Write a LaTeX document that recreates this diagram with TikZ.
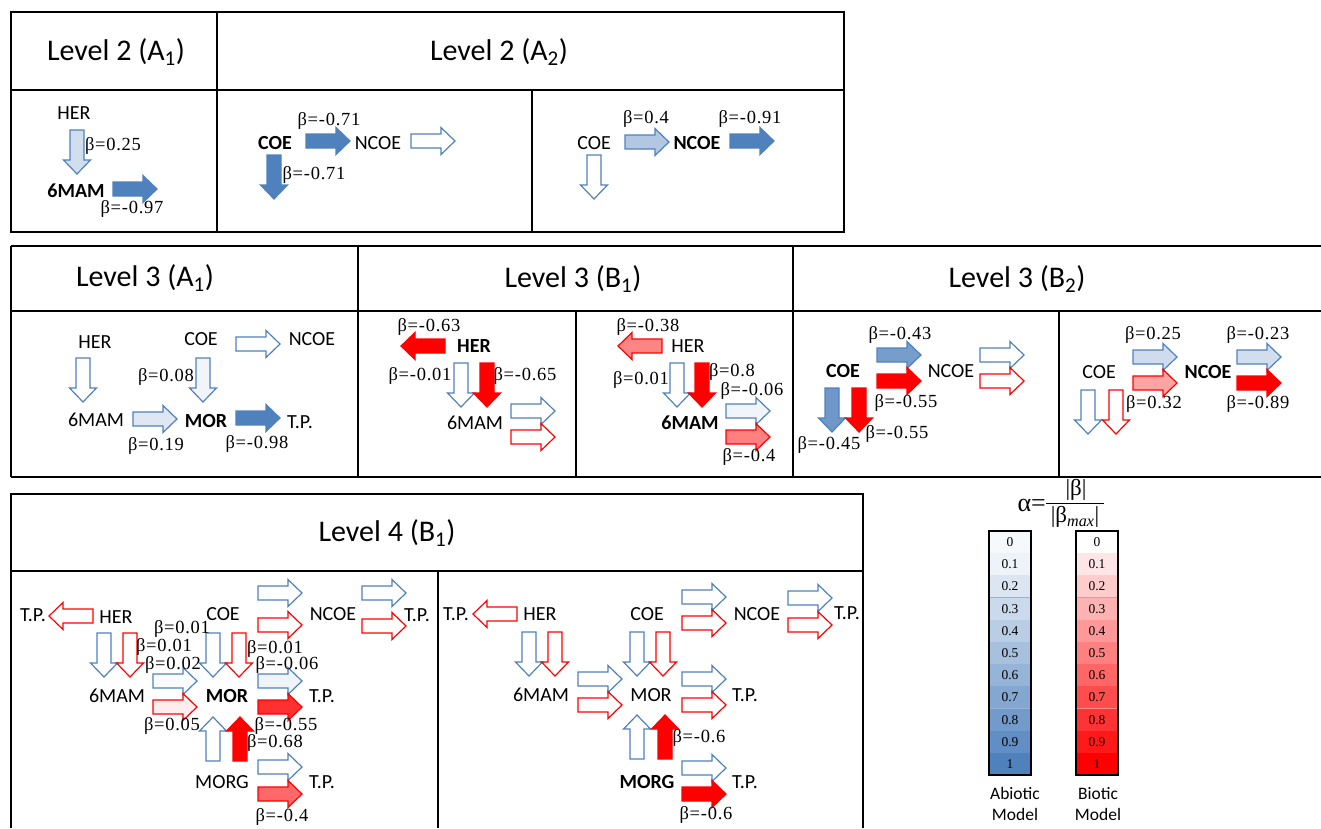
\documentclass[tikz,border=0pt]{standalone}
\usepackage{fontspec}
\setmainfont{Carlito}
\newfontfamily\bfont[LetterSpace=4]{Liberation Serif}
\newfontfamily\ffont{Liberation Serif}
\definecolor{bl}{HTML}{4F81BD}
\definecolor{rd}{HTML}{FF0000}
\newcommand\barw[3]{\draw[#3, shift={#1}, rotate=#2] (0,-7) -- (30,-7) -- (30,-13.5) -- (44,0) -- (30,13.5) -- (30,7) -- (0,7) -- cycle;}
\tikzset{
  ab/.style={draw=bl, fill=bl!#1, line width=1.2pt, line join=miter},
  ar/.style={draw=rd, fill=rd!#1, line width=1.2pt, line join=miter},
  t/.style={font=\fontsize{20}{24}\selectfont, inner sep=0pt},
  tb/.style={font=\fontsize{20}{24}\selectfont\bfseries, inner sep=0pt},
  b/.style={font=\bfont\fontsize{18.5}{20}\selectfont, inner sep=0pt},
  hd/.style={font=\fontsize{30}{34}\selectfont, inner sep=0pt},
  tab/.style={line width=1.4pt, black},
  cellnum/.style={font=\ffont\fontsize{13.5}{15}\selectfont, inner sep=0pt},
  fm/.style={font=\ffont\fontsize{23}{26}\selectfont, inner sep=0pt},
  fa/.style={font=\ffont\fontsize{26}{28}\selectfont, inner sep=0pt}
}
\begin{document}
\begin{tikzpicture}[x=1pt,y=-1pt]
\useasboundingbox (0,0) rectangle (1321,828);
% ---------- tables ----------
\draw[tab] (11,12) rectangle (844,232);
\draw[tab] (11,90) -- (844,90);
\draw[tab] (217,12) -- (217,232);
\draw[tab] (532,90) -- (532,232);
\draw[tab] (11,246) -- (1321,246);
\draw[tab] (11,311) -- (1321,311);
\draw[tab] (11,477) -- (1321,477);
\draw[tab] (11,246) -- (11,477);
\draw[tab] (358,246) -- (358,477);
\draw[tab] (793,246) -- (793,477);
\draw[tab] (576,311) -- (576,477);
\draw[tab] (1059,311) -- (1059,477);
\draw[tab] (11,828) -- (11,494) -- (863,494) -- (863,828);
\draw[tab] (11,571) -- (863,571);
\draw[tab] (438,571) -- (438,828);
% headers
\node[hd] (h1) at (116,52) {Level 2 (A\textsubscript{1})};
\node[hd] (h2) at (499,52) {Level 2 (A\textsubscript{2})};
\node[hd] (h3) at (145,278) {Level 3 (A\textsubscript{1})};
\node[hd] (h4) at (573,279) {Level 3 (B\textsubscript{1})};
\node[hd] (h5) at (1017,279) {Level 3 (B\textsubscript{2})};
\node[hd] (h6) at (387,533) {Level 4 (B\textsubscript{1})};
% ---------- Level 2 (A1) ----------
\barw{(77,130)}{-90}{ab=26}
\barw{(113,189)}{0}{ab=100}
\node[t] (p1her) at (74,113) {HER};
\node[b] (p1b1) at (113,146) {β=0.25};
\node[tb] (p1mam) at (76,191) {6MAM};
\node[b] (p1b2) at (132,209) {β=-0.97};
% ---------- Level 2 (A2) left ----------
\barw{(306,141)}{0}{ab=100}
\barw{(411,141)}{0}{ab=0}
\barw{(274,155)}{-90}{ab=100}
\node[tb] (p2coe) at (275,143) {COE};
\node[b] (p2b1) at (329,121) {β=-0.71};
\node[t] (p2ncoe) at (378,143) {NCOE};
\node[b] (p2b2) at (314,175) {β=-0.71};
% ---------- Level 2 (A2) right ----------
\barw{(594,155)}{-90}{ab=0}
\barw{(625,142)}{0}{ab=44}
\barw{(730,141)}{0}{ab=100}
\node[t] (p3coe) at (594,143) {COE};
\node[b] (p3b1) at (646,119) {β=0.4};
\node[tb] (p3ncoe) at (697,143) {NCOE};
\node[b] (p3b2) at (750,119) {β=-0.91};
% ---------- Level 3 (A1) ----------
\barw{(83,358)}{-90}{ab=0}
\barw{(236,344)}{0}{ab=0}
\barw{(203,358)}{-90}{ab=8}
\barw{(133,419)}{0}{ab=19}
\barw{(236,418)}{0}{ab=100}
\node[t] (q1her) at (95,342) {HER};
\node[t] (q1coe) at (201,339) {COE};
\node[t] (q1ncoe) at (312,339) {NCOE};
\node[b] (q1b1) at (166,377) {β=0.08};
\node[t] (q1mam) at (96,420) {6MAM};
\node[b] (q1b2) at (156,446) {β=0.19};
\node[tb] (q1mor) at (206,421) {MOR};
\node[t] (q1tp) at (300,422) {T.P.};
\node[b] (q1b3) at (257,444) {β=-0.98};
% ---------- Level 3 (B1) left ----------
\barw{(445,346)}{180}{ar=100}
\barw{(461,363)}{-90}{ab=0}
\barw{(487,363)}{-90}{ar=100}
\barw{(511,411)}{0}{ab=0}
\barw{(511,437)}{0}{ar=0}
\node[b] (q2b1) at (429,327) {β=-0.63};
\node[tb] (q2her) at (474,346) {HER};
\node[b] (q2b2) at (420,376) {β=-0.01};
\node[b] (q2b3) at (525,376) {β=-0.65};
\node[t] (q2mam) at (475,423) {6MAM};
% ---------- Level 3 (B1) right ----------
\barw{(662,346)}{180}{ar=48}
\barw{(677,363)}{-90}{ab=0}
\barw{(702,363)}{-90}{ar=100}
\barw{(726,411)}{0}{ab=8}
\barw{(726,437)}{0}{ar=50}
\node[b] (q3b1) at (648,327) {β=-0.38};
\node[t] (q3her) at (688,346) {HER};
\node[b] (q3b2) at (641,380) {β=0.01};
\node[b] (q3b3) at (732,372) {β=0.8};
\node[b] (q3b4) at (752,391) {β=-0.06};
\node[tb] (q3mam) at (690,423) {6MAM};
\node[b] (q3b5) at (749,457) {β=-0.4};
% ---------- Level 3 (B2) left ----------
\barw{(877,355)}{0}{ab=78}
\barw{(877,381)}{0}{ar=100}
\barw{(980,355)}{0}{ab=0}
\barw{(980,381)}{0}{ar=0}
\barw{(832,388)}{-90}{ab=82}
\barw{(859,388)}{-90}{ar=100}
\node[b] (q4b1) at (900,335) {β=-0.43};
\node[tb] (q4coe) at (843,371) {COE};
\node[t] (q4ncoe) at (951,371) {NCOE};
\node[b] (q4b2) at (906,403) {β=-0.55};
\node[b] (q4b3) at (829,445) {β=-0.45};
\node[b] (q4b4) at (897,434) {β=-0.55};
% ---------- Level 3 (B2) right ----------
\barw{(1133,357)}{0}{ab=28}
\barw{(1133,383)}{0}{ar=36}
\barw{(1237,357)}{0}{ab=26}
\barw{(1237,383)}{0}{ar=100}
\barw{(1088,390)}{-90}{ab=0}
\barw{(1116,390)}{-90}{ar=0}
\node[b] (q5b1) at (1153,335) {β=0.25};
\node[t] (q5coe) at (1099,372) {COE};
\node[b] (q5b2) at (1154,404) {β=0.32};
\node[tb] (q5ncoe) at (1208,372) {NCOE};
\node[b] (q5b3) at (1258,335) {β=-0.23};
\node[b] (q5b4) at (1258,404) {β=-0.89};
% ---------- Level 4 (B1) left ----------
\barw{(93,616)}{180}{ar=0}
\barw{(104,633)}{-90}{ab=0}
\barw{(130,633)}{-90}{ar=0}
\barw{(213,633)}{-90}{ab=0}
\barw{(239,633)}{-90}{ar=0}
\barw{(258,593)}{0}{ab=0}
\barw{(258,625)}{0}{ar=0}
\barw{(362,593)}{0}{ab=0}
\barw{(362,626)}{0}{ar=0}
\barw{(153,681)}{0}{ab=3}
\barw{(153,707)}{0}{ar=7}
\barw{(258,681)}{0}{ab=9}
\barw{(258,707)}{0}{ar=81}
\barw{(213,761)}{90}{ab=0}
\barw{(240,761)}{90}{ar=100}
\barw{(258,767)}{0}{ab=0}
\barw{(258,794)}{0}{ar=59}
\node[t] (r1tp1) at (33,615) {T.P.};
\node[t] (r1her) at (116,617) {HER};
\node[t] (r1coe) at (223,614) {COE};
\node[t] (r1ncoe) at (333,614) {NCOE};
\node[t] (r1tp2) at (417,615) {T.P.};
\node[b] (r1b1) at (182,629) {β=0.01};
\node[b] (r1b2) at (164,647) {β=0.01};
\node[b] (r1b3) at (173,665) {β=0.02};
\node[b] (r1b4) at (275,649) {β=0.01};
\node[b] (r1b5) at (287,665) {β=-0.06};
\node[t] (r1mam) at (117,696) {6MAM};
\node[b] (r1b6) at (172,726) {β=0.05};
\node[tb] (r1mor) at (227,696) {MOR};
\node[t] (r1tp3) at (322,696) {T.P.};
\node[b] (r1b7) at (286,726) {β=-0.55};
\node[b] (r1b8) at (275,743) {β=0.68};
\node[t] (r1morg) at (222,782) {MORG};
\node[t] (r1tp4) at (322,782) {T.P.};
\node[b] (r1b9) at (282,817) {β=-0.4};
% ---------- Level 4 (B1) right ----------
\barw{(517,614)}{180}{ar=0}
\barw{(529,632)}{-90}{ab=0}
\barw{(555,632)}{-90}{ar=0}
\barw{(637,632)}{-90}{ab=0}
\barw{(663,632)}{-90}{ar=0}
\barw{(682,597)}{0}{ab=0}
\barw{(682,623)}{0}{ar=0}
\barw{(788,598)}{0}{ab=0}
\barw{(788,625)}{0}{ar=0}
\barw{(578,679)}{0}{ab=0}
\barw{(578,705)}{0}{ar=0}
\barw{(682,679)}{0}{ab=0}
\barw{(682,705)}{0}{ar=0}
\barw{(637,759)}{90}{ab=0}
\barw{(665,759)}{90}{ar=100}
\barw{(682,768)}{0}{ab=0}
\barw{(682,794)}{0}{ar=100}
\node[t] (r2tp1) at (456,614) {T.P.};
\node[t] (r2her) at (540,614) {HER};
\node[t] (r2coe) at (647,614) {COE};
\node[t] (r2ncoe) at (757,614) {NCOE};
\node[t] (r2tp2) at (847,613) {T.P.};
\node[t] (r2mam) at (541,695) {6MAM};
\node[t] (r2mor) at (651,695) {MOR};
\node[t] (r2tp3) at (745,695) {T.P.};
\node[b] (r2b1) at (699,738) {β=-0.6};
\node[tb] (r2morg) at (647,782) {MORG};
\node[t] (r2tp4) at (745,782) {T.P.};
\node[b] (r2b2) at (706,815) {β=-0.6};
% ---------- legend ----------
\node[fa, anchor=east] (falpha) at (1046,505) {α=};
\node[fm] (fnum) at (1076,490) {|β|};
\node[fm] (fden) at (1075,517) {|β\textsubscript{\itshape max}|};
\draw[line width=0.8pt] (falpha.east |- 0,503) -- (1104,503);
\foreach \k/\lab in {0/0,1/0.1,2/0.2,3/0.3,4/0.4,5/0.5,6/0.6,7/0.7,8/0.8,9/0.9,10/1}{
  \pgfmathtruncatemacro\pb{max(5,10*\k)}
  \pgfmathtruncatemacro\pr{10*\k}
  \pgfmathsetmacro\ya{531+22.2*\k}
  \pgfmathsetmacro\yb{531+22.2*(\k+1)}
  \pgfmathsetmacro\yc{531+22.2*(\k+0.5)}
  \fill[bl!\pb] (989,\ya) rectangle (1031,\yb);
  \fill[rd!\pr] (1076,\ya) rectangle (1118,\yb);
  \draw[bl!60, line width=0.6pt] (989,\yb) -- (1031,\yb);
  \draw[rd!45, line width=0.6pt] (1076,\yb) -- (1118,\yb);
  \node[cellnum] (lb\k) at (1010,\yc) {\lab};
  \node[cellnum] (lr\k) at (1097,\yc) {\lab};
}
\draw[line width=1.5pt] (989,531) rectangle (1031,775);
\draw[line width=1.5pt] (1076,531) rectangle (1118,775);
\node[font=\fontsize{17.5}{21}\selectfont, align=center, inner sep=0pt] (abio) at (1015,804) {Abiotic\\Model};
\node[font=\fontsize{17.5}{21}\selectfont, align=center, inner sep=0pt] (bio) at (1098,804) {Biotic\\Model};
\end{tikzpicture}
\end{document}
